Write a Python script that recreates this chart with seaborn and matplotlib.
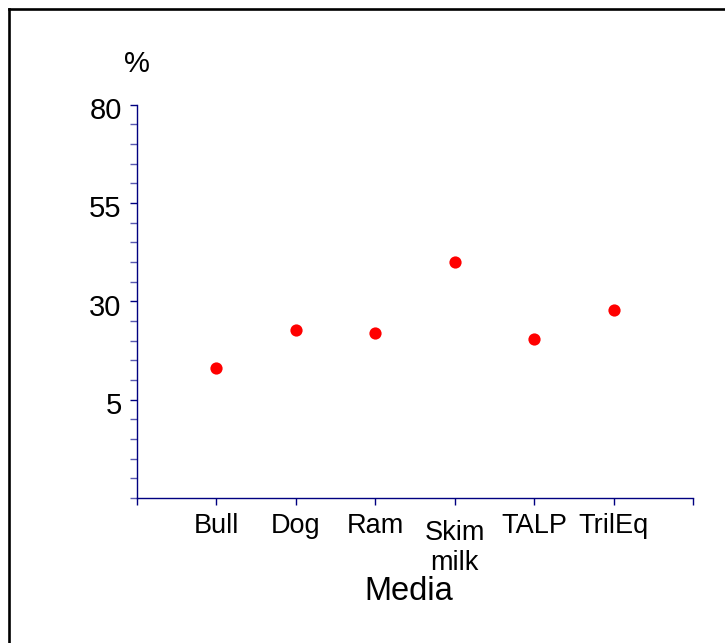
import matplotlib
matplotlib.use("Agg")
import matplotlib.pyplot as plt
import matplotlib.transforms as mtransforms
from matplotlib.lines import Line2D
import numpy as np
import pandas as pd
import seaborn as sns

# Data
media = ["Bull", "Dog", "Ram", "Skim\nmilk", "TALP", "TrilEq"]
percent = [13.0, 22.7, 21.9, 40.0, 20.5, 27.7]
y_major = [5, 30, 55, 80]
y_minor = [v for v in range(-20, 81, 5) if v not in (5, 30, 55, 80)]

sns.set_theme(style="white")
plt.rcParams["font.family"] = ["Liberation Sans", "DejaVu Sans"]

AXIS_COLOR = "#000080"
MINOR_COLOR = "#5a5ab0"

fig = plt.figure(figsize=(7.25, 6.43), dpi=100)
fig.patch.set_facecolor("white")
ax = fig.add_axes([137 / 725, 1 - 498 / 643, (693 - 137) / 725, (498 - 104.5) / 643])

df = pd.DataFrame({"Media": media, "pct": percent})
sns.stripplot(data=df, x="Media", y="pct", order=media, jitter=False,
              color="#ff0000", size=8.8, linewidth=0, ax=ax, zorder=3)

ax.set_xlim(-1, len(media))
ax.set_ylim(-20, 80)
ax.set_xticks(np.arange(-1, len(media) + 1))
ax.set_xticklabels([""] + media + [""], fontsize=19.5, color="black",
                   linespacing=1.2)
ax.set_yticks(y_major)
ax.set_yticklabels([str(v) for v in y_major], fontsize=21, color="black")
ax.set_yticks(y_minor, minor=True)

for side in ("top", "right"):
    ax.spines[side].set_visible(False)
for side in ("left", "bottom"):
    ax.spines[side].set_color(AXIS_COLOR)
    ax.spines[side].set_linewidth(1.0)

ax.tick_params(axis="both", which="major", direction="out", length=5,
               width=1.0, color=AXIS_COLOR, left=True, bottom=True)
ax.tick_params(axis="y", which="minor", direction="out", length=5,
               width=1.0, color=MINOR_COLOR, left=True)
ax.tick_params(axis="y", which="major", pad=6)
ax.tick_params(axis="x", which="major", pad=6)
ax.grid(False)

# nudge the y tick labels slightly below their ticks
shift = mtransforms.ScaledTranslation(0, -2.5 / 72, fig.dpi_scale_trans)
for lab in ax.get_yticklabels():
    lab.set_transform(lab.get_transform() + shift)

# the two-line category label sits a little lower than the rest
drop = mtransforms.ScaledTranslation(0, -5 / 72, fig.dpi_scale_trans)
for lab in ax.get_xticklabels():
    if "\n" in lab.get_text():
        lab.set_transform(lab.get_transform() + drop)

ax.set_ylabel("")
ax.set_xlabel("Media", fontsize=23.5, color="black")
ax.xaxis.set_label_coords(0.489, -0.198)

ax.text(0.0, 1.083, "%", transform=ax.transAxes, ha="center", va="baseline",
        fontsize=21, color="black")

# outer frame (top and left edges)
fy = 1 - 9.3 / 643
fx = 9.3 / 725
fig.add_artist(Line2D([fx, 1.0], [fy, fy], transform=fig.transFigure,
                      color="black", linewidth=1.9, solid_capstyle="projecting"))
fig.add_artist(Line2D([fx, fx], [0.0, fy], transform=fig.transFigure,
                      color="black", linewidth=1.9, solid_capstyle="projecting"))

fig.savefig("out.png", dpi=100, facecolor="white")
